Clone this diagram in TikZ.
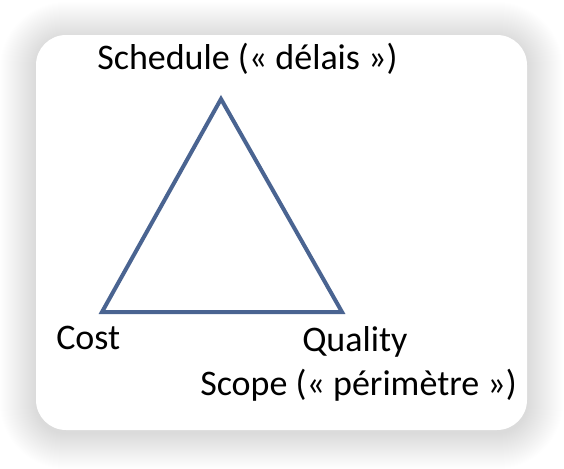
\documentclass[tikz,border=0pt]{standalone}
\usepackage{fontspec}
\setmainfont{Carlito}
\definecolor{triblue}{HTML}{4A6491}
\begin{document}
\begin{tikzpicture}[x=0.75pt,y=-0.75pt,
  lbl/.style={font=\fontsize{27}{31}\selectfont, inner sep=0pt, anchor=base west},
  edge/.style={draw=triblue, line width=3pt, line join=miter}]
\useasboundingbox (0,0) rectangle (564,468);
\fill[white] (0,0) rectangle (564,468);
% soft shadow
\foreach \d in {1,...,36}{
  \fill[black, opacity=0.003, rounded corners={(30+\d)*0.75pt}]
    (36-\d,38-\d) rectangle (527+\d,433+\d);
}
\fill[white, rounded corners=22.5pt] (36,35) rectangle (527,430);
% triangle
\coordinate (top) at (221,99);
\coordinate (bl) at (102,312);
\coordinate (br) at (342,312);
\draw[edge] (top) -- (bl) -- (br) -- cycle;
% labels
\node[lbl] (sched) at (97,69) {Schedule (« délais »)};
\node[lbl] (cost) at (56,349) {Cost};
\node[lbl] (qual) at (302,351) {Quality};
\node[lbl] (scope) at (200,395) {Scope (« périmètre »)};
\end{tikzpicture}
\end{document}
